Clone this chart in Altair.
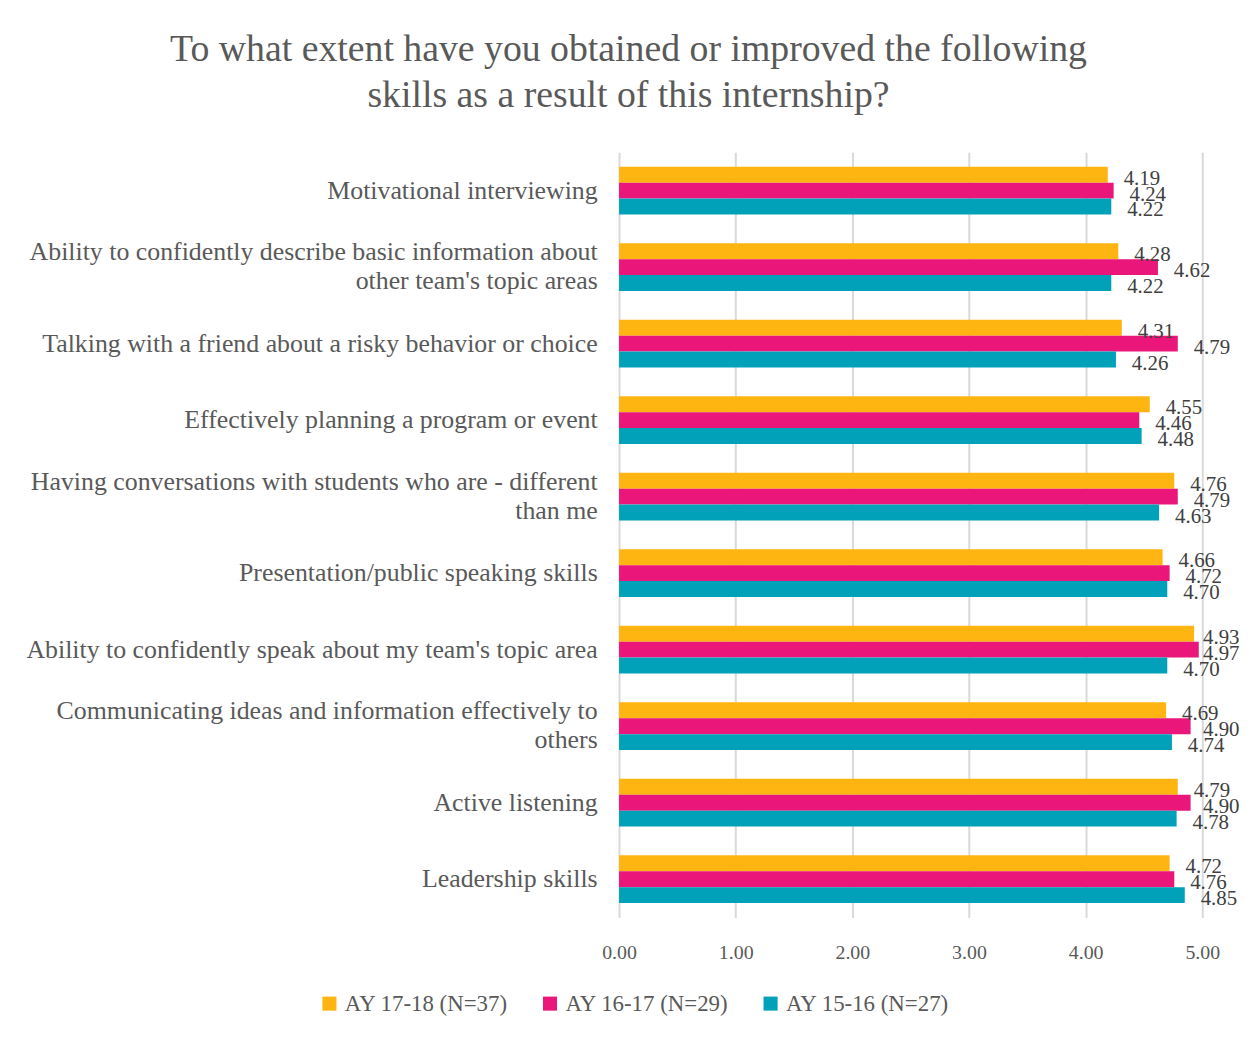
import altair as alt
import pandas as pd

categories = [
    "Motivational interviewing",
    "Ability to confidently describe basic information about\nother team's topic areas",
    "Talking with a friend about a risky behavior or choice",
    "Effectively planning a program or event",
    "Having conversations with students who are - different\nthan me",
    "Presentation/public speaking skills",
    "Ability to confidently speak about my team's topic area",
    "Communicating ideas and information effectively to\nothers",
    "Active listening",
    "Leadership skills",
]
series = ["AY 17-18 (N=37)", "AY 16-17 (N=29)", "AY 15-16 (N=27)"]
ay_17_18 = [4.19, 4.28, 4.31, 4.55, 4.76, 4.66, 4.93, 4.69, 4.79, 4.72]
ay_16_17 = [4.24, 4.62, 4.79, 4.46, 4.79, 4.72, 4.97, 4.90, 4.90, 4.76]
ay_15_16 = [4.22, 4.22, 4.26, 4.48, 4.63, 4.70, 4.70, 4.74, 4.78, 4.85]
colors = ["#FFB511", "#EA1679", "#00A1B9"]
x_ticks = [0, 1, 2, 3, 4, 5]
title_lines = [
    "To what extent have you obtained or improved the following",
    "skills as a result of this internship?",
]

rows = []
for i, c in enumerate(categories):
    for s, vals in zip(series, [ay_17_18, ay_16_17, ay_15_16]):
        rows.append({"skill": c, "series": s, "value": vals[i]})
df = pd.DataFrame(rows)

FONT = "Liberation Serif"
TXT = "#595959"

y_enc = alt.Y(
    "skill:N",
    sort=categories,
    title=None,
    scale=alt.Scale(paddingInner=0.375, paddingOuter=0.1875),
    axis=alt.Axis(
        labelExpr="split(datum.label, '\\n')",
        labelFont=FONT,
        labelFontSize=26,
        labelColor=TXT,
        labelPadding=22,
        labelLineHeight=29,
        labelLimit=800,
        labelOffset={
            "condition": {"test": "indexof(datum.value, '\\n') >= 0", "value": -15},
            "value": 0,
        },
        ticks=False,
        domain=False,
        grid=False,
    ),
)
yoff = alt.YOffset("series:N", sort=series, scale=alt.Scale(paddingInner=0, paddingOuter=0))
x_enc = alt.X(
    "value:Q",
    title=None,
    scale=alt.Scale(domain=[0, 5], nice=False),
    axis=alt.Axis(
        values=x_ticks,
        format=".2f",
        labelFont=FONT,
        labelFontSize=20,
        labelColor=TXT,
        labelPadding=25,
        labelFlush=False,
        ticks=False,
        domain=False,
        grid=True,
        gridColor="#d9d9d9",
        gridWidth=2,
    ),
)

base = alt.Chart(df)
bars = base.mark_bar().encode(
    x=x_enc,
    y=y_enc,
    yOffset=yoff,
    color=alt.Color(
        "series:N",
        sort=series,
        scale=alt.Scale(domain=series, range=colors),
        legend=alt.Legend(
            title=None,
            orient="none",
            legendX=-303,
            legendY=845,
            direction="horizontal",
            symbolType="square",
            symbolSize=200,
            symbolStrokeWidth=0,
            labelFont=FONT,
            labelFontSize=23,
            labelColor=TXT,
            labelOffset=4,
            columnPadding=30,
            labelLimit=400,
        ),
    ),
)
labels = (
    base.transform_calculate(label_x="min(datum.value, 4.87)")
    .mark_text(align="left", baseline="middle", dx=16, dy=4, font=FONT, fontSize=21, color="#404040")
    .encode(
        x="label_x:Q",
        y=alt.Y("skill:N", sort=categories),
        yOffset=yoff,
        text=alt.Text("value:Q", format=".2f"),
    )
)

chart = (
    alt.layer(bars, labels)
    .properties(
        width=587,
        height=770,
        autosize=alt.AutoSizeParams(type="none"),
        padding={"left": 615, "top": 142, "right": 43, "bottom": 110},
        title=alt.TitleParams(
            text=title_lines,
            anchor="middle",
            frame="group",
            dx=-284,
            offset=38,
            fontSize=38,
            font=FONT,
            color=TXT,
            fontWeight="normal",
            lineHeight=46,
        ),
        background="white",
    )
    .configure_view(stroke=None)
)

chart.save("out.html", embed_options={"renderer": "svg", "actions": False})
